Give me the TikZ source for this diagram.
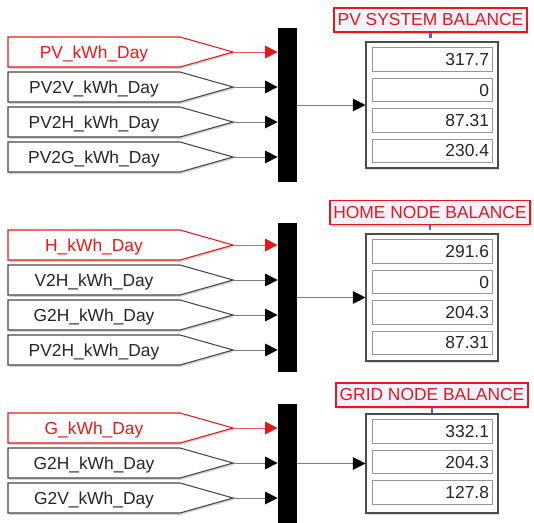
\documentclass[tikz,border=0pt]{standalone}
\usepackage{fontspec}
\setmainfont{Liberation Sans}
\usepackage{tikz}
\usetikzlibrary{arrows.meta, positioning, shadows}
\usepackage{xcolor}
\definecolor{simred}{RGB}{232,24,24}
\definecolor{titlefill}{RGB}{243,243,255}
\definecolor{sigline}{RGB}{125,125,125}
\definecolor{tagedge}{RGB}{70,70,70}
\definecolor{fieldedge}{RGB}{150,150,150}
\definecolor{tickblue}{RGB}{90,90,225}

\tikzset{
  every node/.style={font=\fontsize{9.9}{11}\selectfont},
  tagtext/.style={minimum width=34.4mm, minimum height=6mm, inner sep=0pt, text=black!85, yshift=-0.4mm},
  tagshape/.style={draw=tagedge, line width=0.6pt, fill=white,
    drop shadow={shadow xshift=0.25mm, shadow yshift=-0.35mm, opacity=0.35}},
  redtag/.style={draw=simred, text=simred},
  sig/.style={draw=sigline, line width=0.5pt, -{Triangle[length=2.5mm, width=2.5mm, black]}},
  redsig/.style={draw=simred!70, line width=0.5pt, -{Triangle[length=2.5mm, width=2.5mm, simred]}},
  mux/.style={fill=black, minimum width=3.8mm, inner sep=0pt},
  display/.style={draw=black!70, fill=white, line width=0.6pt, minimum width=26.4mm,
    drop shadow={shadow xshift=0.25mm, shadow yshift=-0.35mm, opacity=0.3}},
  field/.style={draw=fieldedge, line width=0.5pt, minimum width=24mm, minimum height=4.7mm,
    text width=22.8mm, align=right, inner xsep=0.6mm, inner ysep=0pt, text=black!85},
  title/.style={draw=simred, line width=0.8pt, fill=titlefill, text=simred, inner xsep=0.7mm,
    minimum height=4.8mm, drop shadow={shadow xshift=0.3mm, shadow yshift=-0.4mm, opacity=0.3}},
}

% goto tag: name, y, label, extra style
\newcommand{\gototag}[4]{%
  \draw[tagshape,#4] (8,#2-15) -- (180,#2-15) -- (233,#2) coordinate (#1tip)
    -- (180,#2+15) -- (8,#2+15) -- cycle;
  \node[tagtext,#4,draw=none] (#1) at (94,#2) {#3};
}

\begin{document}
\begin{tikzpicture}[x=0.2mm, y=-0.2mm]
  \useasboundingbox (0,0) rectangle (534,523);

  % PV system
  \gototag{pv}{52}{PV\_kWh\_Day}{redtag}
  \gototag{pvtov}{87}{PV2V\_kWh\_Day}{}
  \gototag{pvtoh}{122}{PV2H\_kWh\_Day}{}
  \gototag{pvtog}{157}{PV2G\_kWh\_Day}{}
  \node[mux, minimum height=30.8mm] (muxpv) at (287.5,105) {};
  \draw[redsig] (pvtip) -- (pvtip -| muxpv.west);
  \draw[sig] (pvtovtip) -- (pvtovtip -| muxpv.west);
  \draw[sig] (pvtohtip) -- (pvtohtip -| muxpv.west);
  \draw[sig] (pvtogtip) -- (pvtogtip -| muxpv.west);
  \node[display, minimum height=25.2mm] (disppv) at (432,105) {};
  \node[field, below=1.2mm of disppv.north] (pvval1) {317.7};
  \node[field, below=1.2mm of pvval1] (pvval2) {0};
  \node[field, below=1.2mm of pvval2] (pvval3) {87.31};
  \node[field, below=1.2mm of pvval3] (pvval4) {230.4};
  \draw[sig] (muxpv.east) -- (disppv.west);
  \node[title] (titlepv) at (430.5,20) {PV SYSTEM BALANCE};
  \draw[tickblue, line width=1.2pt] (titlepv.south) -- ++(0,5);

  % home node
  \gototag{h}{245}{H\_kWh\_Day}{redtag}
  \gototag{vtoh}{280}{V2H\_kWh\_Day}{}
  \gototag{gtoh}{315}{G2H\_kWh\_Day}{}
  \gototag{pvtohh}{350}{PV2H\_kWh\_Day}{}
  \node[mux, minimum height=29.8mm] (muxh) at (287.5,297.5) {};
  \draw[redsig] (htip) -- (htip -| muxh.west);
  \draw[sig] (vtohtip) -- (vtohtip -| muxh.west);
  \draw[sig] (gtohtip) -- (gtohtip -| muxh.west);
  \draw[sig] (pvtohhtip) -- (pvtohhtip -| muxh.west);
  \node[display, minimum height=25.4mm] (disph) at (432,297.5) {};
  \node[field, below=1.2mm of disph.north] (hval1) {291.6};
  \node[field, below=1.2mm of hval1] (hval2) {0};
  \node[field, below=1.2mm of hval2] (hval3) {204.3};
  \node[field, below=1.2mm of hval3] (hval4) {87.31};
  \draw[sig] (muxh.east) -- (disph.west);
  \node[title] (titleh) at (430,212.5) {HOME NODE BALANCE};
  \draw[tickblue, line width=1.2pt] (titleh.south) -- ++(0,5);

  % grid node
  \gototag{g}{428}{G\_kWh\_Day}{redtag}
  \gototag{gtohh}{463}{G2H\_kWh\_Day}{}
  \gototag{gtov}{498}{G2V\_kWh\_Day}{}
  \node[mux, minimum height=23.8mm] (muxg) at (287.5,463.5) {};
  \draw[redsig] (gtip) -- (gtip -| muxg.west);
  \draw[sig] (gtohhtip) -- (gtohhtip -| muxg.west);
  \draw[sig] (gtovtip) -- (gtovtip -| muxg.west);
  \node[display, minimum height=19.8mm] (dispg) at (432,463.5) {};
  \node[field, below=1.2mm of dispg.north] (gval1) {332.1};
  \node[field, below=1.2mm of gval1] (gval2) {204.3};
  \node[field, below=1.2mm of gval2] (gval3) {127.8};
  \draw[sig] (muxg.east) -- (dispg.west);
  \node[title] (titleg) at (432,395) {GRID NODE BALANCE};
  \draw[tickblue, line width=1.2pt] (titleg.south) -- ++(0,5);
\end{tikzpicture}
\end{document}
